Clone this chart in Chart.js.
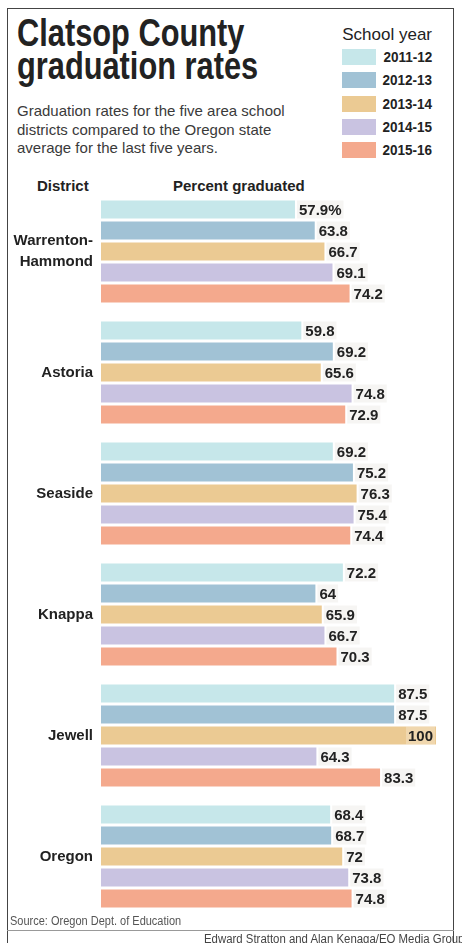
<!DOCTYPE html>
<html>
<head>
<meta charset="utf-8">
<script src="https://cdn.jsdelivr.net/npm/chart.js@4.4.1/dist/chart.umd.min.js"></script>
<style>
  html, body { margin: 0; padding: 0; background: #fff; }
  body { width: 462px; height: 943px; position: relative; overflow: hidden;
         font-family: "Liberation Sans", Arial, Helvetica, sans-serif; color: #222; }
  .abs { position: absolute; white-space: nowrap; }
  .frame { position: absolute; left: 7px; top: 8px; width: 445px; height: 940px;
           border: 1.5px solid #444; border-bottom: none; }
  .rule { position: absolute; left: 7px; top: 930px; width: 447px; height: 1px; background: #999; }
  .title { left: 17px; font-size: 38px; font-weight: bold; line-height: 33px; color: #222;
           transform: scaleX(0.81); transform-origin: left top; }
  .sub { left: 17px; top: 102px; font-size: 15px; line-height: 18.5px; color: #3a3a3a; }
  .hdr { font-size: 15px; font-weight: bold; line-height: 18px; color: #222; }
  .lgtitle { top: 25px; right: 30px; font-size: 17px; line-height: 20px; }
  .sw { position: absolute; left: 342px; width: 34px; height: 16px; }
  .lglab { right: 30px; font-size: 15px; font-weight: bold; line-height: 16px;
           transform: scaleX(0.9); transform-origin: right center; }
  #wrap { position: absolute; left: 0; top: 180px; width: 462px; height: 750px; }
</style>
</head>
<body>
<div class="frame"></div>
<div class="abs title" style="top:17px">Clatsop County</div>
<div class="abs title" style="top:50px">graduation rates</div>
<div class="abs sub">Graduation rates for the five area school<br>districts compared to the Oregon state<br>average for the last five years.</div>
<div class="abs lgtitle">School year</div>
<div id="legend"></div>
<div class="abs hdr" style="left:37px; top:177px">District</div>
<div class="abs hdr" style="left:173px; top:177px">Percent graduated</div>
<div id="wrap"><canvas id="chart"></canvas></div>
<div class="abs" style="left:10px; top:914px; font-size:12.5px; color:#555; transform:scaleX(0.88); transform-origin:left top">Source: Oregon Dept. of Education</div>
<div class="rule"></div>
<div class="abs" style="left:204px; top:932px; font-size:12px; color:#444; transform:scaleX(0.95); transform-origin:left top">Edward Stratton and Alan Kenaga/EO Media Group</div>

<script>
var districts = [['Warrenton-', 'Hammond'], 'Astoria', 'Seaside', 'Knappa', 'Jewell', 'Oregon'];
var years = ['2011-12', '2012-13', '2013-14', '2014-15', '2015-16'];
var rates2011 = [57.9, 59.8, 69.2, 72.2, 87.5, 68.4];
var rates2012 = [63.8, 69.2, 75.2, 64, 87.5, 68.7];
var rates2013 = [66.7, 65.6, 76.3, 65.9, 100, 72];
var rates2014 = [69.1, 74.8, 75.4, 66.7, 64.3, 73.8];
var rates2015 = [74.2, 72.9, 74.4, 70.3, 83.3, 74.8];
var colors = ['#c6e7ea', '#a1c2d5', '#ebca93', '#c9c3e1', '#f4a98d'];

var allRates = [rates2011, rates2012, rates2013, rates2014, rates2015];
var fontFam = '"Liberation Sans", Arial, Helvetica, sans-serif';

// legend on the top right
var legendBox = document.getElementById('legend');
for (var i = 0; i < years.length; i++) {
    var rowTop = 49 + i * 23.25;
    var sw = document.createElement('div');
    sw.className = 'sw';
    sw.style.top = rowTop + 'px';
    sw.style.background = colors[i];
    legendBox.appendChild(sw);
    var lab = document.createElement('div');
    lab.className = 'abs lglab';
    lab.style.top = rowTop + 'px';
    lab.textContent = years[i];
    legendBox.appendChild(lab);
}

var valueLabels = {
    id: 'valueLabels',
    afterDatasetsDraw: function (chart) {
        var ctx = chart.ctx;
        ctx.save();
        ctx.font = 'bold 15px ' + fontFam;
        ctx.textBaseline = 'middle';
        chart.data.datasets.forEach(function (ds, di) {
            var meta = chart.getDatasetMeta(di);
            meta.data.forEach(function (bar, j) {
                var v = ds.data[j];
                var txt = String(v);
                if (di === 0 && j === 0) txt += '%';
                var w = ctx.measureText(txt).width;
                var x, boxX;
                if (v >= 95) {
                    ctx.textAlign = 'right';
                    x = bar.x - 3;
                    boxX = x - w - 2;
                    ctx.fillStyle = 'rgba(255,255,255,0.25)';
                } else {
                    ctx.textAlign = 'left';
                    x = bar.x + 4;
                    boxX = x - 2;
                    ctx.fillStyle = 'rgba(238,236,234,0.55)';
                }
                ctx.fillRect(boxX, bar.y - 9, w + 4, 18);
                ctx.fillStyle = '#222';
                ctx.fillText(txt, x, bar.y + 1);
            });
        });
        ctx.restore();
    }
};

var datasets = [];
for (var k = 0; k < years.length; k++) {
    datasets.push({
        label: years[k],
        data: allRates[k],
        backgroundColor: colors[k],
        borderWidth: 0,
        categoryPercentage: 0.868,
        barPercentage: 0.857
    });
}

var myChart = new Chart(document.getElementById('chart').getContext('2d'), {
    type: 'bar',
    data: { labels: districts, datasets: datasets },
    options: {
        indexAxis: 'y',
        responsive: true,
        maintainAspectRatio: false,
        animation: false,
        layout: { padding: { top: 11, bottom: 13, left: 0, right: 26 } },
        scales: {
            x: { display: false, min: 0, max: 100 },
            y: {
                grid: { display: false, drawTicks: false },
                border: { display: false },
                ticks: {
                    color: '#222',
                    padding: 8,
                    font: { family: fontFam, size: 15, weight: 'bold', lineHeight: 1.4 }
                },
                afterFit: function (scale) {
                    scale.width = 101;
                    scale.paddingTop = 0;
                    scale.paddingBottom = 0;
                }
            }
        },
        plugins: { legend: { display: false }, tooltip: { enabled: false } }
    },
    plugins: [valueLabels]
});
</script>
</body>
</html>
